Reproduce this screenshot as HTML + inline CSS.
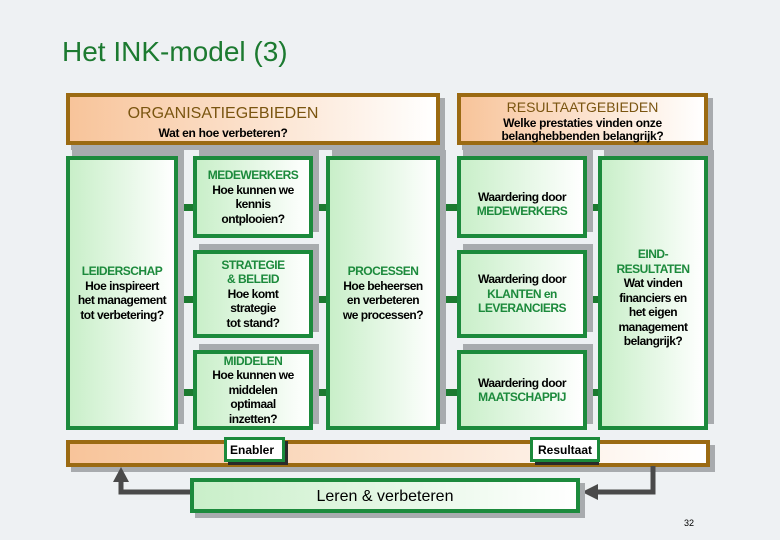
<!DOCTYPE html>
<html><head><style>
body{margin:0;width:780px;height:540px;overflow:hidden;background:#eef1f3;font-family:"Liberation Sans",Arial,sans-serif;position:relative}
.a{position:absolute;box-sizing:border-box}
.g{border:4px solid #1c8a3c;background:linear-gradient(90deg,#c9efc9,#fff);box-shadow:6px -6px 0 #a8abae;display:flex;flex-direction:column;justify-content:center;align-items:center;text-align:center;font-size:12px;line-height:14.5px;color:#000;font-weight:bold;letter-spacing:-0.5px}
.o{border:4px solid #9b6a12;background:linear-gradient(90deg,#f8c49a,#fff);box-shadow:5px 5px 0 #a8abae;text-align:center}
.gt{color:#1c8a3c}
.c{position:absolute;background:#1c7a30;height:7px}
</style></head><body>
<div class="a" style="left:62px;top:36px;font-size:28px;color:#1c7a30">Het INK-model (3)</div>

<div class="a o" style="left:66px;top:93px;width:374px;height:52px;padding-top:8px"><div style="font-size:16px;color:#7a5510;margin-left:-60px">ORGANISATIEGEBIEDEN</div><div style="font-size:12px;font-weight:bold;margin-top:3px;margin-left:-60px;letter-spacing:-0.3px">Wat en hoe verbeteren?</div></div>
<div class="a o" style="left:457px;top:93px;width:251px;height:52px;padding-top:2px"><div style="font-size:14px;color:#7a5510">RESULTAATGEBIEDEN</div><div style="font-size:12px;font-weight:bold;line-height:13px;margin-top:2px;letter-spacing:-0.3px">Welke prestaties vinden onze<br>belanghebbenden belangrijk?</div></div>

<div class="c" style="left:175px;top:204px;width:155px"></div>
<div class="c" style="left:175px;top:296px;width:155px"></div>
<div class="c" style="left:175px;top:389px;width:155px"></div>
<div class="c" style="left:437px;top:204px;width:164px"></div>
<div class="c" style="left:437px;top:296px;width:164px"></div>
<div class="c" style="left:437px;top:389px;width:164px"></div>

<div class="a g" style="left:66px;top:156px;width:112px;height:274px"><span class="gt">LEIDERSCHAP</span>Hoe inspireert<br>het management<br>tot verbetering?</div>
<div class="a g" style="left:193px;top:156px;width:120px;height:82px"><span class="gt">MEDEWERKERS</span>Hoe kunnen we<br>kennis<br>ontplooien?</div>
<div class="a g" style="left:193px;top:250px;width:120px;height:88px"><span class="gt">STRATEGIE<br>&amp; BELEID</span>Hoe komt<br>strategie<br>tot stand?</div>
<div class="a g" style="left:193px;top:350px;width:120px;height:80px"><span class="gt">MIDDELEN</span>Hoe kunnen we<br>middelen<br>optimaal<br>inzetten?</div>
<div class="a g" style="left:326px;top:156px;width:114px;height:274px"><span class="gt">PROCESSEN</span>Hoe beheersen<br>en verbeteren<br>we processen?</div>
<div class="a g" style="left:457px;top:156px;width:130px;height:82px;padding-top:14px">Waardering door<span class="gt">MEDEWERKERS</span></div>
<div class="a g" style="left:457px;top:250px;width:130px;height:88px">Waardering door<span class="gt">KLANTEN en<br>LEVERANCIERS</span></div>
<div class="a g" style="left:457px;top:350px;width:130px;height:80px">Waardering door<span class="gt">MAATSCHAPPIJ</span></div>
<div class="a g" style="left:598px;top:156px;width:110px;height:274px;padding-top:10px"><span class="gt">EIND-<br>RESULTATEN</span>Wat vinden<br>financiers en<br>het eigen<br>management<br>belangrijk?</div>

<div class="a o" style="left:66px;top:440px;width:644px;height:27px"></div>
<div class="a" style="left:228px;top:441px;width:60px;height:24px;background:#2a2a2a"></div>
<div class="a" style="left:224px;top:437px;width:61px;height:25px;border:3px solid #1c8a3c;background:#fff;font-size:12px;font-weight:bold;padding:3px 0 0 3px">Enabler</div>
<div class="a" style="left:535px;top:441px;width:64px;height:24px;background:#2a2a2a"></div>
<div class="a" style="left:530px;top:437px;width:70px;height:25px;border:3px solid #1c8a3c;background:#fff;font-size:12px;font-weight:bold;padding:3px 0 0 5px">Resultaat</div>

<svg class="a" style="left:0;top:0" width="780" height="540">
<path d="M192 492 H121 V480" stroke="#4a4a4a" stroke-width="5" fill="none"/>
<polygon points="113,482 129,482 121,467" fill="#4a4a4a"/>
<path d="M653 466 V492 H596" stroke="#4a4a4a" stroke-width="5" fill="none"/>
<polygon points="598,484 598,500 582,492" fill="#4a4a4a"/>
</svg>
<div class="a" style="left:190px;top:478px;width:390px;height:35px;border:4px solid #1c8a3c;background:linear-gradient(90deg,#c9efc9,#fff);box-shadow:5px 5px 0 #a8abae;text-align:center;font-size:16px;padding-top:6px">Leren &amp; verbeteren</div>
<div class="a" style="left:684px;top:518px;font-size:9px">32</div>
</body></html>
